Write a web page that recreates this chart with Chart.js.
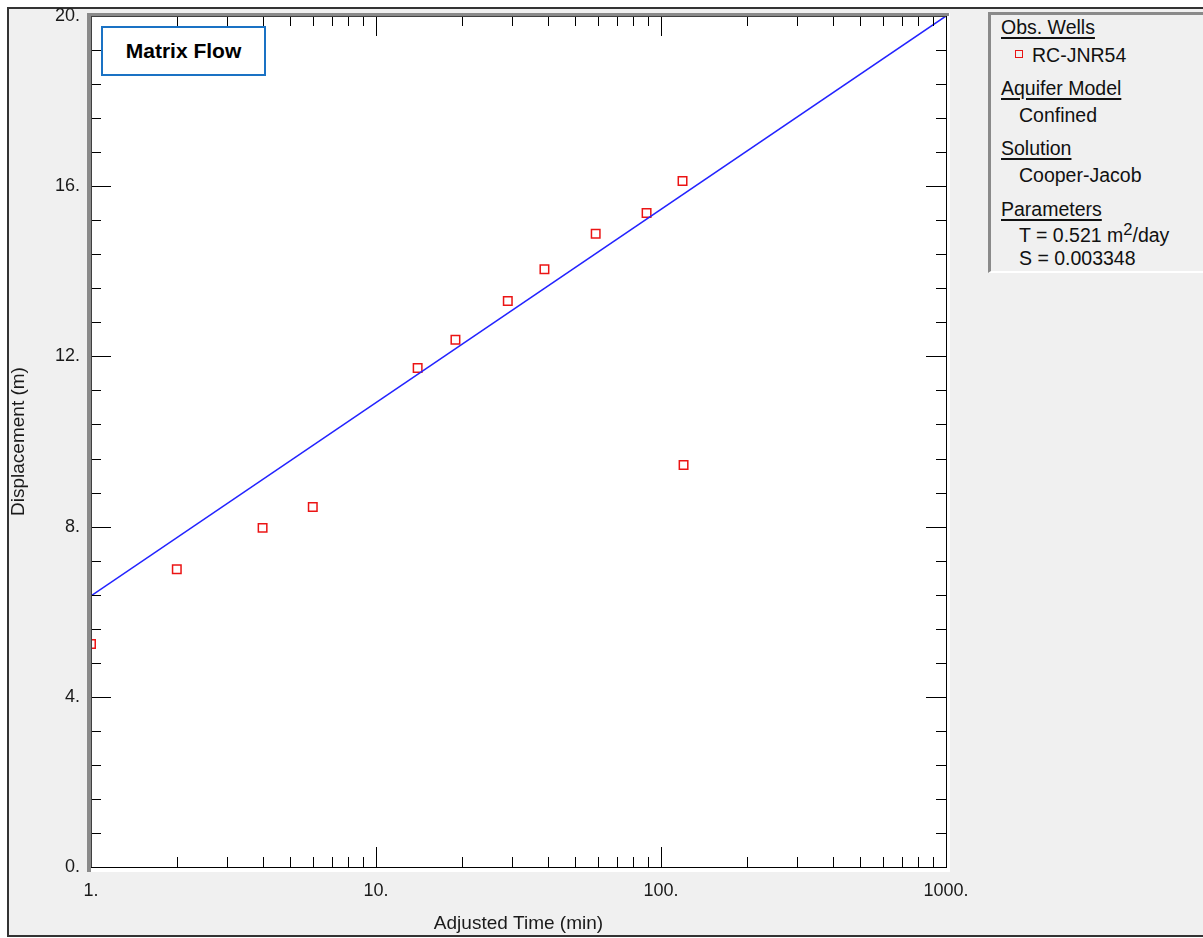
<!DOCTYPE html>
<html>
<head>
<meta charset="utf-8">
<script src="https://cdn.jsdelivr.net/npm/chart.js@4.4.0/dist/chart.umd.min.js"></script>
<style>
html,body{margin:0;padding:0;background:#fff;}
#wrap{position:relative;width:1203px;height:938px;overflow:hidden;font-family:'Liberation Sans',Arial,sans-serif;color:#111;}
#frame{position:absolute;left:7px;top:7px;width:1196px;height:926px;border-top:2px solid #333;border-left:2px solid #333;border-bottom:2px solid #333;background:#f0f0f0;}
#c{position:absolute;left:0;top:0;}
#title{position:absolute;left:101px;top:26px;width:161px;height:46px;border:2px solid #1a72c4;background:#fff;font-weight:bold;font-size:21px;display:flex;align-items:center;justify-content:center;color:#000;}
#panel{position:absolute;left:988px;top:12px;width:215px;height:256px;border-left:3px solid #8a8a8a;border-top:3px solid #8a8a8a;border-bottom:2px solid #fff;background:#f0f0f0;}
.t{position:absolute;font-size:19.5px;line-height:1;white-space:nowrap;color:#111;}
.u{text-decoration:underline;text-underline-offset:3px;text-decoration-thickness:1.5px;}
.mk{position:absolute;left:1015px;top:50px;width:6px;height:6px;border:1.5px solid #e81414;background:transparent;}
sup{font-size:0.85em;vertical-align:0;position:relative;top:-0.45em;line-height:0;}
</style>
</head>
<body>
<div id="wrap">
  <div id="frame"></div>
  <canvas id="c" width="1203" height="938"></canvas>
  <div id="title">Matrix Flow</div>
  <div id="panel"></div>
  <div class="t u" style="left:1001px;top:17.5px;">Obs. Wells</div>
  <div class="mk"></div>
  <div class="t" style="left:1032px;top:45.5px;">RC-JNR54</div>
  <div class="t u" style="left:1001px;top:78.5px;">Aquifer Model</div>
  <div class="t" style="left:1019px;top:106px;">Confined</div>
  <div class="t u" style="left:1001px;top:138.5px;">Solution</div>
  <div class="t" style="left:1019px;top:166px;">Cooper-Jacob</div>
  <div class="t u" style="left:1001px;top:199.5px;">Parameters</div>
  <div class="t" style="left:1019px;top:226px;">T = 0.521 m<sup>2</sup>/day</div>
  <div class="t" style="left:1019px;top:248.5px;">S = 0.003348</div>
</div>
<script>
// ---- data ----
const obsTime = [1, 2, 4, 6, 14, 19, 29, 39, 59, 89, 119, 120];
const obsDisp = [5.24, 7.0, 7.97, 8.46, 11.73, 12.39, 13.30, 14.05, 14.88, 15.37, 16.12, 9.45];
const fitTime = [1, 1000];
const fitDisp = [6.37, 20.0];
const xTickValues = [1, 10, 100, 1000];
const yTickValues = [0, 4, 8, 12, 16, 20];
const xTitle = 'Adjusted Time (min)';
const yTitle = 'Displacement (m)';

const FONT = "'Liberation Sans', Arial, sans-serif";

const framePlugin = {
  id: 'frame',
  beforeDraw(chart) {
    const ctx = chart.ctx, a = chart.chartArea;
    const L = Math.round(a.left), R = Math.round(a.right), T = Math.round(a.top), B = Math.round(a.bottom);
    ctx.save();
    ctx.fillStyle = '#ffffff';
    ctx.fillRect(L - 4, T - 3, (R + 4) - (L - 4), (B + 5) - (T - 3));
    ctx.fillStyle = '#8a8a8a';
    ctx.fillRect(L - 4, T - 3, 4, (B + 5) - (T - 3));
    ctx.fillRect(L - 4, T - 3, (R + 3) - (L - 4), 3);
    ctx.restore();
  },
  afterDatasetsDraw(chart) {
    const ctx = chart.ctx, a = chart.chartArea;
    const xs = chart.scales.x, ys = chart.scales.y;
    const L = Math.round(a.left), R = Math.round(a.right), T = Math.round(a.top), B = Math.round(a.bottom);
    ctx.save();
    ctx.strokeStyle = '#000';
    ctx.lineWidth = 1;
    const line = (x1, y1, x2, y2) => { ctx.beginPath(); ctx.moveTo(x1, y1); ctx.lineTo(x2, y2); ctx.stroke(); };
    const xMinor = [];
    for (let d = 1; d < 1000; d *= 10) for (let k = 2; k <= 9; k++) xMinor.push(k * d);
    xMinor.forEach(v => {
      const px = Math.round(xs.getPixelForValue(v)) + 0.5;
      line(px, B, px, B - 10);
      line(px, T, px, T + 10);
    });
    xTickValues.forEach(v => {
      const px = Math.round(xs.getPixelForValue(v)) + 0.5;
      line(px, B, px, B - 20);
      line(px, T, px, T + 20);
    });
    for (let i = 1; i < 25; i++) {
      const v = i * 0.8;
      const py = Math.round(ys.getPixelForValue(v)) + 0.5;
      const len = (i % 5 === 0) ? 20 : 10;
      line(L, py, L + len, py);
      line(R, py, R - len, py);
    }
    ctx.strokeStyle = '#404040';
    line(L + 0.5, T, L + 0.5, B + 1);
    line(L, T + 0.5, R + 1, T + 0.5);
    ctx.strokeStyle = '#000';
    line(R + 0.5, T, R + 0.5, B + 1);
    line(L, B + 0.5, R + 1, B + 0.5);
    ctx.restore();
  }
};

const chart = new Chart(document.getElementById('c').getContext('2d'), {
  type: 'scatter',
  data: {
    datasets: [
      {
        type: 'line',
        label: 'Cooper-Jacob',
        data: fitTime.map((t, i) => ({ x: t, y: fitDisp[i] })),
        borderColor: 'rgb(35,35,255)',
        borderWidth: 1.5,
        pointRadius: 0,
        fill: false,
        tension: 0,
        clip: 0
      },
      {
        label: 'RC-JNR54',
        data: obsTime.map((t, i) => ({ x: t, y: obsDisp[i] })),
        pointStyle: 'rect',
        pointRadius: 6,
        borderColor: 'rgb(235,20,20)',
        backgroundColor: 'rgba(255,255,255,0)',
        borderWidth: 1.5,
        clip: 0
      }
    ]
  },
  options: {
    responsive: false,
    animation: false,
    devicePixelRatio: 1,
    layout: { padding: { left: 0, top: 16, right: 257, bottom: 0 } },
    plugins: { legend: { display: false }, tooltip: { enabled: false } },
    scales: {
      x: {
        type: 'logarithmic',
        position: 'bottom',
        min: 1,
        max: 1000,
        afterBuildTicks: s => { s.ticks = xTickValues.map(v => ({ value: v })); },
        afterFit: s => { s.height = 71; s.paddingLeft = 0; s.paddingRight = 0; },
        grid: { display: false, drawTicks: false },
        border: { display: false },
        ticks: { callback: v => v + '.', font: { family: FONT, size: 18 }, color: '#1a1a1a', padding: 13, maxRotation: 0, autoSkip: false },
        title: { display: true, text: xTitle, font: { family: FONT, size: 19 }, color: '#1a1a1a', padding: { top: 0, bottom: 3 } }
      },
      y: {
        type: 'linear',
        min: 0,
        max: 20,
        afterBuildTicks: s => { s.ticks = yTickValues.map(v => ({ value: v })); },
        afterFit: s => { s.width = 91; s.paddingTop = 0; s.paddingBottom = 0; },
        grid: { display: false, drawTicks: false },
        border: { display: false },
        ticks: { callback: v => v + '.', font: { family: FONT, size: 18 }, color: '#1a1a1a', padding: 11 },
        title: { display: true, text: yTitle, font: { family: FONT, size: 19 }, color: '#1a1a1a', padding: { top: 7, bottom: 0 } }
      }
    }
  },
  plugins: [framePlugin]
});
</script>
</body>
</html>
